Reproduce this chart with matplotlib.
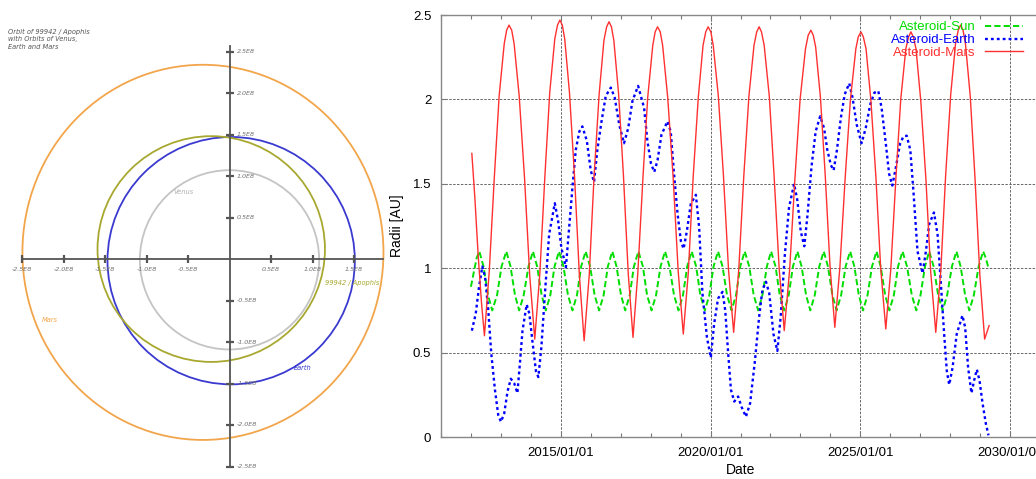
import matplotlib
matplotlib.use('Agg')
import matplotlib.pyplot as plt
import matplotlib.dates as mdates
from matplotlib.patches import Ellipse
import pandas as pd

# ---------------- left panel: orbits (units of 1E8 km) ----------------
orbit_names = ['Mars', 'Earth', '99942 / Apophis', 'Venus']
orbit_cx = [-0.32, 0.02, -0.22, 0.0]
orbit_cy = [0.08, -0.02, 0.12, -0.01]
orbit_rx = [2.175, 1.49, 1.37, 1.08]
orbit_ry = [2.26, 1.49, 1.36, 1.08]
orbit_colors = ['#F2A54A', '#3A3AD0', '#A8A830', '#C4C4C4']

axis_xticks = [-2.5, -2.0, -1.5, -1.0, -0.5, 0.5, 1.0, 1.5]
axis_yticks = [2.5, 2.0, 1.5, 1.0, 0.5, -0.5, -1.0, -1.5, -2.0, -2.5]

# ---------------- right panel: radii vs date ----------------
sun_years = [2012.00, 2012.10, 2012.19,
             2012.28, 2012.42, 2012.57, 2012.71, 2012.87, 2013.02,
             2013.18, 2013.32, 2013.47, 2013.61, 2013.76, 2013.92,
             2014.07, 2014.21, 2014.36, 2014.50, 2014.65, 2014.79,
             2014.94, 2015.09, 2015.24, 2015.39, 2015.54, 2015.68,
             2015.83, 2015.98, 2016.13, 2016.28, 2016.43, 2016.57,
             2016.72, 2016.86, 2017.01, 2017.15, 2017.30, 2017.44,
             2017.59, 2017.74, 2017.88, 2018.03, 2018.18, 2018.33,
             2018.48, 2018.63, 2018.78, 2018.93, 2019.08, 2019.22,
             2019.37, 2019.52, 2019.66, 2019.81, 2019.96, 2020.10,
             2020.25, 2020.40, 2020.55, 2020.70, 2020.85, 2020.99,
             2021.14, 2021.29, 2021.44, 2021.59, 2021.73, 2021.88,
             2022.02, 2022.17, 2022.31, 2022.46, 2022.61, 2022.75,
             2022.90, 2023.04, 2023.19, 2023.33, 2023.48, 2023.63,
             2023.78, 2023.92, 2024.07, 2024.21, 2024.36, 2024.51,
             2024.66, 2024.80, 2024.95, 2025.09, 2025.24, 2025.39,
             2025.54, 2025.68, 2025.83, 2025.97, 2026.12, 2026.26,
             2026.41, 2026.56, 2026.72, 2026.87, 2027.01, 2027.16,
             2027.30, 2027.45, 2027.60, 2027.75, 2027.90, 2028.06,
             2028.21, 2028.35, 2028.50, 2028.64, 2028.79, 2028.95,
             2029.10, 2029.19, 2029.28]
sun_vals = [0.89, 0.98, 1.06,
            1.10, 1.01, 0.84, 0.75, 0.84, 1.01,
            1.10, 1.01, 0.84, 0.75, 0.84, 1.01,
            1.10, 1.01, 0.84, 0.75, 0.84, 1.01,
            1.10, 1.01, 0.84, 0.75, 0.84, 1.01,
            1.10, 1.01, 0.84, 0.75, 0.84, 1.01,
            1.10, 1.01, 0.84, 0.75, 0.84, 1.01,
            1.10, 1.01, 0.84, 0.75, 0.84, 1.01,
            1.10, 1.01, 0.84, 0.75, 0.84, 1.01,
            1.10, 1.01, 0.84, 0.75, 0.84, 1.01,
            1.10, 1.01, 0.84, 0.75, 0.84, 1.01,
            1.10, 1.01, 0.84, 0.75, 0.84, 1.01,
            1.10, 1.01, 0.84, 0.75, 0.84, 1.01,
            1.10, 1.01, 0.84, 0.75, 0.84, 1.01,
            1.10, 1.01, 0.84, 0.75, 0.84, 1.01,
            1.10, 1.01, 0.84, 0.75, 0.84, 1.01,
            1.10, 1.01, 0.84, 0.75, 0.84, 1.01,
            1.10, 1.01, 0.84, 0.75, 0.84, 1.01,
            1.10, 1.01, 0.84, 0.75, 0.84, 1.01,
            1.10, 1.01, 0.84, 0.75, 0.84, 1.01,
            1.10, 1.06, 1.00]

earth_years = [2012.03, 2012.16, 2012.27, 2012.38, 2012.47, 2012.57, 2012.68,
               2012.80, 2012.91, 2013.00, 2013.11, 2013.22, 2013.33, 2013.44,
               2013.55, 2013.64, 2013.72, 2013.86, 2013.95, 2014.05, 2014.17,
               2014.25, 2014.35, 2014.47, 2014.61, 2014.80, 2014.91, 2015.02,
               2015.17, 2015.28, 2015.39, 2015.50, 2015.62, 2015.72, 2015.87,
               2016.00, 2016.11, 2016.22, 2016.36, 2016.50, 2016.67, 2016.80,
               2016.95, 2017.11, 2017.25, 2017.39, 2017.58, 2017.78, 2017.89,
               2018.01, 2018.12, 2018.23, 2018.36, 2018.56, 2018.67, 2018.78,
               2018.90, 2019.01, 2019.10, 2019.21, 2019.34, 2019.51, 2019.62,
               2019.73, 2019.88, 2020.01, 2020.12, 2020.25, 2020.40, 2020.49,
               2020.59, 2020.68, 2020.79, 2020.92, 2021.03, 2021.18, 2021.32,
               2021.48, 2021.62, 2021.73, 2021.85, 2021.96, 2022.10, 2022.23,
               2022.34, 2022.48, 2022.62, 2022.79, 2022.90, 2023.01, 2023.13,
               2023.24, 2023.37, 2023.51, 2023.66, 2023.79, 2023.90, 2024.02,
               2024.11, 2024.22, 2024.35, 2024.48, 2024.63, 2024.74, 2024.88,
               2025.04, 2025.18, 2025.33, 2025.47, 2025.60, 2025.71, 2025.85,
               2025.96, 2026.07, 2026.19, 2026.33, 2026.44, 2026.55, 2026.67,
               2026.78, 2026.91, 2027.08, 2027.19, 2027.30, 2027.46, 2027.58,
               2027.69, 2027.80, 2027.89, 2027.97, 2028.08, 2028.22, 2028.41,
               2028.50, 2028.60, 2028.71, 2028.80, 2028.89, 2028.98, 2029.08,
               2029.19, 2029.28]
earth_vals = [0.63, 0.73, 0.89, 1.01, 0.95, 0.77, 0.49,
              0.28, 0.13, 0.09, 0.14, 0.27, 0.345, 0.32,
              0.26, 0.45, 0.63, 0.785, 0.73, 0.57, 0.39,
              0.355, 0.53, 0.85, 1.20, 1.385, 1.28, 1.12,
              1.005, 1.24, 1.48, 1.70, 1.81, 1.84, 1.755,
              1.58, 1.51, 1.70, 1.87, 2.02, 2.07, 2.01,
              1.85, 1.74, 1.83, 1.99, 2.08, 1.95, 1.755,
              1.62, 1.57, 1.64, 1.79, 1.87, 1.81, 1.56,
              1.32, 1.16, 1.115, 1.22, 1.38, 1.435, 1.24,
              0.85, 0.59, 0.47, 0.67, 0.82, 0.86, 0.75,
              0.49, 0.28, 0.21, 0.24, 0.18, 0.12, 0.20,
              0.45, 0.71, 0.87, 0.92, 0.85, 0.61, 0.51,
              0.71, 1.08, 1.36, 1.50, 1.40, 1.22, 1.13,
              1.32, 1.60, 1.81, 1.90, 1.83, 1.70, 1.61,
              1.58, 1.70, 1.89, 2.03, 2.095, 2.01, 1.85,
              1.74, 1.83, 1.97, 2.04, 2.05, 1.95, 1.74,
              1.56, 1.49, 1.60, 1.74, 1.78, 1.785, 1.70,
              1.44, 1.10, 0.97, 1.10, 1.26, 1.33, 1.20,
              0.91, 0.61, 0.39, 0.31, 0.41, 0.61, 0.72,
              0.65, 0.41, 0.26, 0.335, 0.40, 0.335, 0.20,
              0.08, 0.01]

mars_years = [2012.03, 2012.13, 2012.24, 2012.35, 2012.45,
              2012.61, 2012.78, 2012.94, 2013.11, 2013.19, 2013.27,
              2013.36, 2013.44, 2013.61, 2013.79, 2013.96, 2014.13,
              2014.30, 2014.47, 2014.63, 2014.80, 2014.89, 2014.97,
              2015.05, 2015.13, 2015.29, 2015.46, 2015.62, 2015.78,
              2015.95, 2016.11, 2016.28, 2016.44, 2016.53, 2016.61,
              2016.69, 2016.77, 2016.93, 2017.09, 2017.25, 2017.41,
              2017.57, 2017.74, 2017.90, 2018.07, 2018.15, 2018.23,
              2018.32, 2018.40, 2018.57, 2018.75, 2018.92, 2019.09,
              2019.26, 2019.42, 2019.59, 2019.75, 2019.84, 2019.92,
              2020.01, 2020.09, 2020.26, 2020.43, 2020.60, 2020.77,
              2020.94, 2021.11, 2021.28, 2021.45, 2021.54, 2021.62,
              2021.70, 2021.79, 2021.96, 2022.12, 2022.29, 2022.46,
              2022.64, 2022.82, 2022.99, 2023.17, 2023.26, 2023.35,
              2023.43, 2023.51, 2023.67, 2023.83, 2023.99, 2024.15,
              2024.32, 2024.50, 2024.67, 2024.85, 2024.93, 2025.02,
              2025.10, 2025.19, 2025.35, 2025.52, 2025.68, 2025.85,
              2026.02, 2026.19, 2026.35, 2026.52, 2026.61, 2026.69,
              2026.77, 2026.86, 2027.02, 2027.19, 2027.35, 2027.52,
              2027.69, 2027.85, 2028.02, 2028.18, 2028.27, 2028.35,
              2028.43, 2028.51, 2028.67, 2028.83, 2028.99, 2029.15,
              2029.30]
mars_vals = [1.68, 1.42, 1.08, 0.80, 0.60,
             0.98, 1.54, 2.02, 2.33, 2.41, 2.44,
             2.41, 2.33, 2.02, 1.53, 0.96, 0.58,
             0.97, 1.55, 2.04, 2.36, 2.44, 2.47,
             2.44, 2.36, 2.04, 1.54, 0.96, 0.57,
             0.96, 1.54, 2.03, 2.35, 2.43, 2.46,
             2.43, 2.35, 2.03, 1.55, 0.97, 0.59,
             0.97, 1.53, 2.01, 2.32, 2.40, 2.43,
             2.40, 2.32, 2.01, 1.54, 0.98, 0.61,
             0.98, 1.54, 2.01, 2.32, 2.40, 2.43,
             2.40, 2.32, 2.02, 1.55, 0.99, 0.62,
             0.99, 1.55, 2.02, 2.32, 2.40, 2.43,
             2.40, 2.32, 2.02, 1.55, 1.00, 0.63,
             0.99, 1.54, 2.00, 2.30, 2.38, 2.41,
             2.38, 2.31, 2.01, 1.55, 1.01, 0.65,
             1.01, 1.55, 2.00, 2.30, 2.37, 2.40,
             2.37, 2.30, 2.00, 1.54, 1.00, 0.64,
             1.00, 1.54, 2.00, 2.30, 2.37, 2.40,
             2.37, 2.30, 1.99, 1.53, 0.98, 0.62,
             0.99, 1.55, 2.03, 2.33, 2.41, 2.44,
             2.41, 2.33, 2.02, 1.53, 0.96, 0.58,
             0.66]


def to_dates(years):
    """decimal years -> timestamps"""
    out = []
    for y in years:
        yr = int(y)
        start = pd.Timestamp(yr, 1, 1)
        end = pd.Timestamp(yr + 1, 1, 1)
        out.append(start + (y - yr) * (end - start))
    return out


W, H = 1036, 479
fig = plt.figure(figsize=(W / 100, H / 100), dpi=100)

# ---- left: orbit sketch ----
ox, oy, scale = 229.5, 259, 83.0   # origin in px, px per 1E8 km
axl = fig.add_axes([0, 0, 390 / W, 1])
axl.set_xlim(-ox / scale, (390 - ox) / scale)
axl.set_ylim((oy - H) / scale, oy / scale)
axl.axis('off')

for name, cx, cy, rx, ry, c in zip(orbit_names, orbit_cx, orbit_cy,
                                   orbit_rx, orbit_ry, orbit_colors):
    axl.add_patch(Ellipse((cx, cy), 2 * rx, 2 * ry, fill=False,
                          edgecolor=c, linewidth=1.3))

axis_col = '#555555'
axl.plot([axis_xticks[0], 1.85], [0, 0], color=axis_col, lw=1.3)
axl.plot([0, 0], [axis_yticks[-1], 2.57], color=axis_col, lw=1.3)
axl.plot(axis_xticks, [0] * len(axis_xticks), ls='none', marker='|',
         ms=6, mew=1.6, color=axis_col)
axl.plot([0] * len(axis_yticks), axis_yticks, ls='none', marker='_',
         ms=6, mew=1.6, color=axis_col)

tick_kw = dict(fontsize=4.6, style='italic', color='#707070')
for v in axis_xticks:
    axl.text(v, -0.13, f'{v:.1f}E8', ha='center', va='center', **tick_kw)
for v in axis_yticks:
    axl.text(0.09, v, f'{v:.1f}E8', ha='left', va='center', **tick_kw)

lab_kw = dict(fontsize=4.8, style='italic')
axl.text(-2.26, -0.73, 'Mars', color=orbit_colors[0], ha='left', va='center', **lab_kw)
axl.text(0.77, -1.31, 'Earth', color=orbit_colors[1], ha='left', va='center', **lab_kw)
axl.text(1.15, -0.29, '99942 / Apophis', color=orbit_colors[2], ha='left', va='center', **lab_kw)
axl.text(-0.68, 0.81, 'Venus', color='#B0B0B0', ha='left', va='center', **lab_kw)

fig.text(8 / W, 1 - 29 / H, 'Orbit of 99942 / Apophis\nwith Orbits of Venus,\nEarth and Mars',
         ha='left', va='top', fontsize=4.8, style='italic', color='#555555',
         linespacing=1.25)

# ---- right: radii vs date ----
plt.rcParams['font.family'] = ['Liberation Sans', 'DejaVu Sans']
x0_year, x1_year = 2011.0, 2031.0
px_per_year = 29.95
ax = fig.add_axes([441 / W, (H - 437) / H,
                   (x1_year - x0_year) * px_per_year / W, (437 - 15) / H])

ax.plot(to_dates(sun_years), sun_vals, color='#00DD00', lw=1.4,
        ls=(0, (3.2, 1.6)), label='Asteroid-Sun')
ax.plot(to_dates(earth_years), earth_vals, color='#0000FF', lw=1.7,
        ls=(0, (1.2, 1.3)), label='Asteroid-Earth')
ax.plot(to_dates(mars_years), mars_vals, color='#FF3030', lw=1.0,
        label='Asteroid-Mars')

ax.set_xlim(to_dates([x0_year, x1_year]))
ax.set_ylim(0, 2.5)
ax.set_yticks([0, 0.5, 1, 1.5, 2, 2.5])
ax.set_yticklabels(['0', '0.5', '1', '1.5', '2', '2.5'])
ax.xaxis.set_major_locator(mdates.YearLocator(5))
ax.xaxis.set_minor_locator(mdates.YearLocator(1))
ax.xaxis.set_major_formatter(mdates.DateFormatter('%Y/%m/%d'))

ax.grid(True, which='major', color='#666666', lw=0.7, ls=(0, (2.5, 1.5)))
ax.tick_params(which='both', direction='in', top=True, right=False,
               labelsize=9.5, color='#777777', width=0.8)
ax.tick_params(which='major', length=4, pad=7)
ax.tick_params(which='minor', length=3)
for s in ax.spines.values():
    s.set_color('#888888')
    s.set_linewidth(1.0)

ax.set_xlabel('Date', fontsize=10, labelpad=3)
ax.set_ylabel('Radii [AU]', fontsize=10, labelpad=6)

ax.legend(loc='upper right', bbox_to_anchor=(1023 / W, 1 - 21 / H),
          bbox_transform=fig.transFigure, frameon=False, fontsize=9.5,
          markerfirst=False, labelcolor='linecolor', handlelength=2.9,
          handletextpad=0.7, labelspacing=0.05, borderpad=0, borderaxespad=0)

fig.savefig('out.png', dpi=100, facecolor='white')
